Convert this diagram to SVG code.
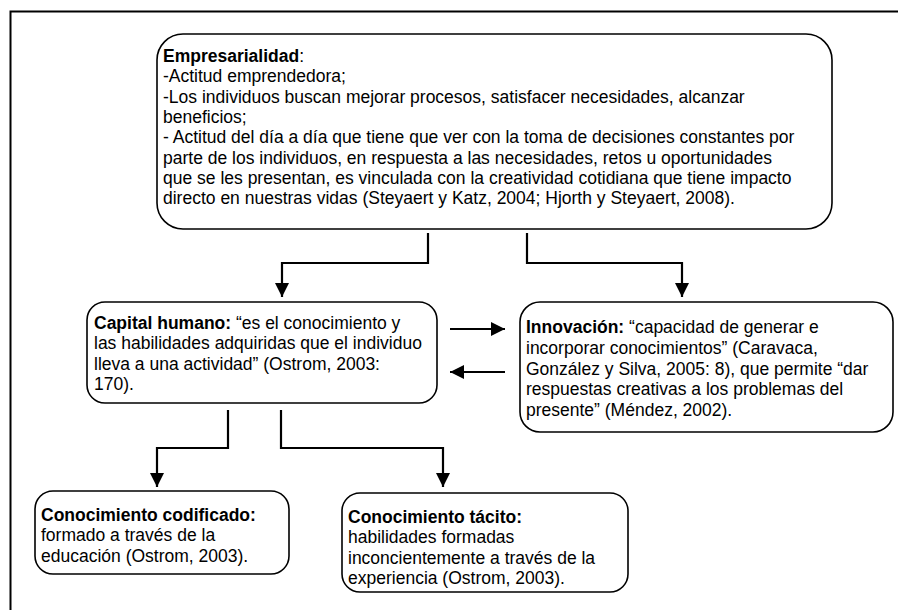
<svg xmlns="http://www.w3.org/2000/svg" width="898" height="610" viewBox="0 0 898 610">
<defs>
<style>
.box{fill:#fff;stroke:#000;stroke-width:1.6}
.frame{fill:#fff;stroke:#000;stroke-width:2}
.t{font-family:"Liberation Sans",Arial,sans-serif;font-size:17.5px;fill:#000}
.b{font-weight:bold}
.c{fill:none;stroke:#000;stroke-width:2.2}
</style>
<marker id="ah" markerUnits="userSpaceOnUse" markerWidth="14" markerHeight="16" refX="14" refY="7" orient="auto">
<path d="M0,0 L14,7 L0,14 Z" fill="#000"/>
</marker>
</defs>
<rect class="frame" x="10.5" y="11.5" width="900" height="620"/>
<g id="empresarialidad">
<rect class="box" x="157" y="34" width="675" height="195" rx="26"/>
<text class="t" x="163" y="62"><tspan class="b">Empresarialidad</tspan>:<tspan x="163" dy="20.3">-Actitud emprendedora;</tspan><tspan x="163" dy="20.3">-Los individuos buscan mejorar procesos, satisfacer necesidades, alcanzar</tspan><tspan x="163" dy="20.3">beneficios;</tspan><tspan x="163" dy="20.3">- Actitud del día a día que tiene que ver con la toma de decisiones constantes por</tspan><tspan x="163" dy="20.3">parte de los individuos, en respuesta a las necesidades, retos u oportunidades</tspan><tspan x="163" dy="20.3">que se les presentan, es vinculada con la creatividad cotidiana que tiene impacto</tspan><tspan x="163" dy="20.3">directo en nuestras vidas (Steyaert y Katz, 2004; Hjorth y Steyaert, 2008).</tspan></text>
</g>
<g id="capital-humano">
<rect class="box" x="87" y="302" width="350" height="101" rx="18"/>
<text class="t" x="94" y="329"><tspan class="b">Capital humano:</tspan> “es el conocimiento y<tspan x="94" dy="20.3">las habilidades adquiridas que el individuo</tspan><tspan x="94" dy="20.3">lleva a una actividad” (Ostrom, 2003:</tspan><tspan x="94" dy="20.3">170).</tspan></text>
</g>
<g id="innovacion">
<rect class="box" x="520" y="302" width="373" height="130" rx="20"/>
<text class="t" x="526" y="333"><tspan class="b">Innovación:</tspan> “capacidad de generar e<tspan x="526" dy="20.8">incorporar conocimientos” (Caravaca,</tspan><tspan x="526" dy="20.8">González y Silva, 2005: 8), que permite “dar</tspan><tspan x="526" dy="20.8">respuestas creativas a los problemas del</tspan><tspan x="526" dy="20.8">presente” (Méndez, 2002).</tspan></text>
</g>
<g id="conocimiento-codificado">
<rect class="box" x="35" y="491" width="254" height="83" rx="18"/>
<text class="t" x="41" y="521"><tspan class="b">Conocimiento codificado:</tspan><tspan x="41" dy="20.3">formado a través de la</tspan><tspan x="41" dy="20.3">educación (Ostrom, 2003).</tspan></text>
</g>
<g id="conocimiento-tacito">
<rect class="box" x="342" y="493" width="286" height="99" rx="18"/>
<text class="t" x="348" y="523"><tspan class="b">Conocimiento tácito:</tspan><tspan x="348" dy="20.3">habilidades formadas</tspan><tspan x="348" dy="20.3">inconcientemente a través de la</tspan><tspan x="348" dy="20.3">experiencia (Ostrom, 2003).</tspan></text>
</g>
<g id="connectors">
<path class="c" d="M428,233 V263 H282 V297" marker-end="url(#ah)"/>
<path class="c" d="M527,233 V263 H682 V297" marker-end="url(#ah)"/>
<path class="c" d="M450,329 H505" marker-end="url(#ah)"/>
<path class="c" d="M505,372 H450" marker-end="url(#ah)"/>
<path class="c" d="M228,410 V448 H157 V487" marker-end="url(#ah)"/>
<path class="c" d="M281,410 V448 H443 V487" marker-end="url(#ah)"/>
</g>
</svg>
